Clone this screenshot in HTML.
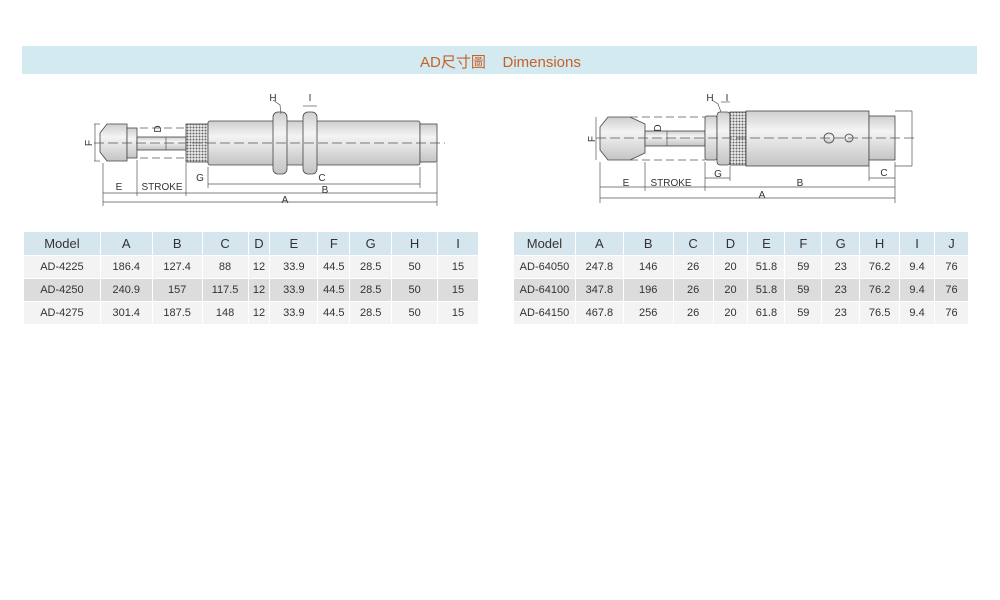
<!DOCTYPE html>
<html><head><meta charset="utf-8"><style>
body{margin:0;background:#fff;width:1000px;height:600px;position:relative;overflow:hidden;font-family:"Liberation Sans",Arial,sans-serif}
.banner{position:absolute;left:22px;top:46px;width:955px;height:28px;background:#d2eaf0}
.banner span{position:absolute;left:398px;top:5px;font-size:15px;color:#c8602a;font-family:"Liberation Sans","Noto Sans CJK TC",sans-serif;white-space:pre}
table{position:absolute;border-collapse:collapse;font-size:11px;color:#333;text-align:center}
td{padding:0;border:1.5px solid #fff}
tr.h td{background:#d6e6ee;font-size:13px;height:23px}
tr.a td{background:#f3f3f3;height:22px}
tr.b td{background:#dcdcdc;height:22px}
svg{position:absolute;left:0;top:0}
</style></head><body>
<div class="banner"><span>AD尺寸圖    Dimensions</span></div>
<svg width="1000" height="230" viewBox="0 0 1000 230">
<defs>
<linearGradient id="g" x1="0" y1="0" x2="0" y2="1"><stop offset="0" stop-color="#cfcfcf"/><stop offset=".35" stop-color="#f4f4f4"/><stop offset="1" stop-color="#c4c4c4"/></linearGradient>
<pattern id="k" width="3" height="3" patternUnits="userSpaceOnUse"><rect width="3" height="3" fill="#eee"/><circle cx="1.5" cy="1.5" r="1" fill="#666"/></pattern>
</defs>
<g stroke="#444" stroke-width="0.8" fill="url(#g)">
<!-- left -->
<path d="M107 124 L127 124 L127 161 L107 161 L100 152 L100 133 Z"/>
<rect x="127" y="128" width="10" height="30"/>
<rect x="137" y="137" width="49" height="13"/>
<rect x="186" y="124" width="22" height="38" fill="url(#k)"/>
<rect x="208" y="121" width="212" height="44" rx="2"/>
<rect x="420" y="124" width="17" height="38"/>
<rect x="273" y="112" width="14" height="62" rx="5"/>
<rect x="303" y="112" width="14" height="62" rx="5"/>
<!-- right -->
<path d="M608 117 L630 117 L645 124 L645 153 L630 160 L608 160 L600 150 L600 127 Z"/>
<rect x="645" y="131" width="60" height="15"/>
<rect x="705" y="116" width="12" height="44" rx="2"/>
<rect x="717" y="112" width="13" height="53" rx="3"/>
<rect x="730" y="112" width="16" height="53" fill="url(#k)"/>
<rect x="746" y="111" width="123" height="55"/>
<rect x="869" y="116" width="26" height="44"/>
<circle cx="829" cy="138" r="5"/>
<circle cx="849" cy="138" r="4"/>
</g>
<g stroke="#555" stroke-width="0.7" fill="none">
<line x1="94" y1="143" x2="445" y2="143" stroke-dasharray="10 4"/>
<line x1="140" y1="128" x2="186" y2="128" stroke-dasharray="8 4"/>
<line x1="140" y1="158" x2="186" y2="158" stroke-dasharray="8 4"/>
<line x1="95" y1="124" x2="95" y2="161"/>
<line x1="100" y1="124" x2="94" y2="124"/><line x1="100" y1="161" x2="94" y2="161"/>
<line x1="166" y1="137" x2="166" y2="150"/>
<line x1="208" y1="184" x2="420" y2="184"/>
<line x1="186" y1="193" x2="437" y2="193"/>
<line x1="103" y1="193" x2="186" y2="193"/>
<line x1="103" y1="202" x2="437" y2="202"/>
<line x1="103" y1="163" x2="103" y2="206"/>
<line x1="137" y1="160" x2="137" y2="196"/>
<line x1="186" y1="163" x2="186" y2="196"/>
<line x1="208" y1="167" x2="208" y2="188"/>
<line x1="420" y1="167" x2="420" y2="188"/>
<line x1="437" y1="163" x2="437" y2="206"/>
<line x1="303" y1="106" x2="317" y2="106"/>
<path d="M273 100 L280 105 L281 114"/>
<line x1="596" y1="138" x2="915" y2="138" stroke-dasharray="10 4"/>
<line x1="630" y1="117" x2="705" y2="117" stroke-dasharray="8 4"/>
<line x1="630" y1="160" x2="705" y2="160" stroke-dasharray="8 4"/>
<line x1="596" y1="117" x2="596" y2="160"/>
<line x1="667" y1="131" x2="667" y2="146"/>
<line x1="600" y1="162" x2="600" y2="203"/>
<line x1="645" y1="162" x2="645" y2="191"/>
<line x1="705" y1="162" x2="705" y2="191"/>
<line x1="730" y1="166" x2="730" y2="181"/>
<line x1="869" y1="166" x2="869" y2="181"/>
<line x1="895" y1="162" x2="895" y2="203"/>
<line x1="705" y1="178" x2="730" y2="178"/>
<line x1="869" y1="178" x2="895" y2="178"/>
<line x1="600" y1="187" x2="895" y2="187"/>
<line x1="600" y1="198" x2="895" y2="198"/>
<line x1="895" y1="111" x2="912" y2="111"/><line x1="895" y1="166" x2="912" y2="166"/>
<line x1="912" y1="111" x2="912" y2="166"/>
<line x1="721" y1="102" x2="730" y2="102"/>
<path d="M712 100 L718 104 L721 112"/>
</g>
<g font-size="10" fill="#333" text-anchor="middle">
<text x="88" y="147" transform="rotate(-90 88 143)">F</text>
<text x="158" y="132" transform="rotate(-90 158 129)">D</text>
<text x="273" y="101">H</text><text x="310" y="101">I</text>
<text x="119" y="190">E</text><text x="162" y="190">STROKE</text>
<text x="200" y="181">G</text><text x="322" y="181">C</text>
<text x="325" y="193">B</text><text x="285" y="203">A</text>
<text x="592" y="142" transform="rotate(-90 592 139)">F</text>
<text x="658" y="131" transform="rotate(-90 658 128)">D</text>
<text x="710" y="101">H</text><text x="727" y="101">I</text>
<text x="626" y="186">E</text><text x="671" y="186">STROKE</text>
<text x="718" y="177">G</text><text x="884" y="176">C</text>
<text x="800" y="186">B</text><text x="762" y="198">A</text>
</g>
</svg>
<table style="left:23px;top:231px;width:456px">
<colgroup><col style="width:77px"><col style="width:52px"><col style="width:50px"><col style="width:46px"><col style="width:22px"><col style="width:48px"><col style="width:32px"><col style="width:42px"><col style="width:46px"><col style="width:41px"></colgroup>
<tr class="h"><td>Model</td><td>A</td><td>B</td><td>C</td><td>D</td><td>E</td><td>F</td><td>G</td><td>H</td><td>I</td></tr>
<tr class="a"><td>AD-4225</td><td>186.4</td><td>127.4</td><td>88</td><td>12</td><td>33.9</td><td>44.5</td><td>28.5</td><td>50</td><td>15</td></tr>
<tr class="b"><td>AD-4250</td><td>240.9</td><td>157</td><td>117.5</td><td>12</td><td>33.9</td><td>44.5</td><td>28.5</td><td>50</td><td>15</td></tr>
<tr class="a"><td>AD-4275</td><td>301.4</td><td>187.5</td><td>148</td><td>12</td><td>33.9</td><td>44.5</td><td>28.5</td><td>50</td><td>15</td></tr>
</table>
<table style="left:513px;top:231px;width:456px">
<colgroup><col style="width:62px"><col style="width:48px"><col style="width:50px"><col style="width:40px"><col style="width:35px"><col style="width:37px"><col style="width:37px"><col style="width:38px"><col style="width:40px"><col style="width:35px"><col style="width:34px"></colgroup>
<tr class="h"><td>Model</td><td>A</td><td>B</td><td>C</td><td>D</td><td>E</td><td>F</td><td>G</td><td>H</td><td>I</td><td>J</td></tr>
<tr class="a"><td>AD-64050</td><td>247.8</td><td>146</td><td>26</td><td>20</td><td>51.8</td><td>59</td><td>23</td><td>76.2</td><td>9.4</td><td>76</td></tr>
<tr class="b"><td>AD-64100</td><td>347.8</td><td>196</td><td>26</td><td>20</td><td>51.8</td><td>59</td><td>23</td><td>76.2</td><td>9.4</td><td>76</td></tr>
<tr class="a"><td>AD-64150</td><td>467.8</td><td>256</td><td>26</td><td>20</td><td>61.8</td><td>59</td><td>23</td><td>76.5</td><td>9.4</td><td>76</td></tr>
</table>
</body></html>
